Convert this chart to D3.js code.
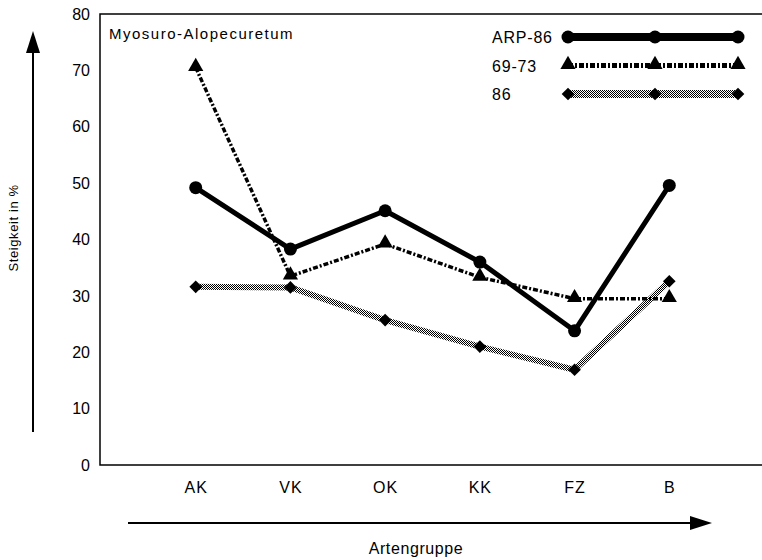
<!DOCTYPE html>
<html>
<head>
<meta charset="utf-8">
<script src="https://cdn.jsdelivr.net/npm/d3@7"></script>
<style>
body { margin: 0; background: #fff; }
text { font-family: "Liberation Sans", Arial, sans-serif; fill: #000; }
</style>
</head>
<body>
<div class="chart"></div>
<script>
var categories = ["AK", "VK", "OK", "KK", "FZ", "B"];
var arp86 = [49.2, 38.3, 45.1, 36.0, 23.8, 49.6];
var s6973 = [70.5, 33.5, 39.2, 33.3, 29.5, 29.5];
var s86 = [31.6, 31.5, 25.7, 21.0, 16.9, 32.6];
var yTicks = [0, 10, 20, 30, 40, 50, 60, 70, 80];

var width = 762;
var height = 560;

var svg = d3.select(".chart")
    .append("svg")
    .attr("width", width)
    .attr("height", height);

// checker pattern for the "86" series
var defs = svg.append("defs");
var pat = defs.append("pattern")
    .attr("id", "checker")
    .attr("patternUnits", "userSpaceOnUse")
    .attr("width", 2)
    .attr("height", 2);
pat.append("rect").attr("width", 2).attr("height", 2).attr("fill", "#fff");
pat.append("rect").attr("width", 1).attr("height", 1).attr("fill", "#000");
pat.append("rect").attr("x", 1).attr("y", 1).attr("width", 1).attr("height", 1).attr("fill", "#000");

var x = d3.scalePoint()
    .domain(categories)
    .range([101, 764])
    .padding(1);

var y = d3.scaleLinear()
    .domain([0, 80])
    .range([465, 14]);

// frame (left, top, bottom)
svg.append("path")
    .attr("d", "M762,14H100V465H762")
    .attr("fill", "none")
    .attr("stroke", "#000")
    .attr("stroke-width", 1.5);

// y tick labels
var yAxis = d3.axisLeft(y).tickValues(yTicks).tickSize(0).tickPadding(10);
var ga = svg.append("g").attr("transform", "translate(100,0)").call(yAxis);
ga.select(".domain").remove();
ga.selectAll("text")
    .style("font-size", "16px")
    .style("font-family", "Liberation Sans, Arial, sans-serif");

// x labels
var xAxis = d3.axisBottom(x).tickSize(0).tickPadding(0);
var gx = svg.append("g").attr("transform", "translate(0,482)").call(xAxis);
gx.select(".domain").remove();
gx.selectAll("text")
    .style("font-size", "16px")
    .style("letter-spacing", "1px")
    .style("font-family", "Liberation Sans, Arial, sans-serif");

// axis arrows
svg.append("line").attr("x1", 33).attr("x2", 33).attr("y1", 432).attr("y2", 48)
    .attr("stroke", "#000").attr("stroke-width", 2);
svg.append("path").attr("d", "M33,31L26,53L40,53Z").attr("fill", "#000");
svg.append("line").attr("x1", 128).attr("x2", 695).attr("y1", 523).attr("y2", 523)
    .attr("stroke", "#000").attr("stroke-width", 2);
svg.append("path").attr("d", "M712,523L690,516L690,530Z").attr("fill", "#000");

svg.append("text")
    .attr("transform", "translate(18,228) rotate(-90)")
    .attr("text-anchor", "middle")
    .style("font-size", "13px")
    .style("letter-spacing", "0.6px")
    .text("Steigkeit in %");

svg.append("text")
    .attr("x", 416).attr("y", 554)
    .attr("text-anchor", "middle")
    .style("font-size", "16px")
    .style("letter-spacing", "0.6px")
    .text("Artengruppe");

svg.append("text")
    .attr("x", 109).attr("y", 39)
    .style("font-size", "15px")
    .style("letter-spacing", "1.5px")
    .text("Myosuro-Alopecuretum");

var line = d3.line()
    .x(function (d, i) { return x(categories[i]); })
    .y(function (d) { return y(d); });

var series = [
    { name: "ARP-86", values: arp86, stroke: "#000", width: 5, dash: null, marker: "circle" },
    { name: "69-73", values: s6973, stroke: "#000", width: 3.5, dash: "5,2,2,2", marker: "triangle" },
    { name: "86", values: s86, stroke: "url(#checker)", width: 6, dash: null, marker: "diamond" }
];

function drawMarker(g, kind, cx, cy) {
    if (kind == "circle") {
        g.append("circle").attr("cx", cx).attr("cy", cy).attr("r", 6.5).attr("fill", "#000");
    } else if (kind == "triangle") {
        g.append("path").attr("d", d3.symbol().type(d3.symbolTriangle).size(100)())
            .attr("transform", "translate(" + cx + "," + (cy - 1) + ")")
            .attr("fill", "#000");
    } else {
        g.append("path").attr("d", d3.symbol().type(d3.symbolSquare).size(80)())
            .attr("transform", "translate(" + cx + "," + cy + ") rotate(45)")
            .attr("fill", "#000");
    }
}

// draw order: 86 at the back, then 69-73, then ARP-86
[2, 1, 0].forEach(function (k) {
    var s = series[k];
    var g = svg.append("g");
    g.append("path")
        .datum(s.values)
        .attr("d", line)
        .attr("fill", "none")
        .attr("stroke", s.stroke)
        .attr("stroke-width", s.width)
        .attr("stroke-linejoin", "round")
        .attr("stroke-dasharray", s.dash);
    s.values.forEach(function (v, i) {
        drawMarker(g, s.marker, x(categories[i]), y(v));
    });
});

// legend
var legX = [568, 655, 738];
series.forEach(function (s, k) {
    var ly = 37 + k * 28.5;
    var g = svg.append("g");
    g.append("text")
        .attr("x", 492).attr("y", ly + 6)
        .style("font-size", "16px")
        .style("letter-spacing", "0.8px")
        .text(s.name);
    g.append("line")
        .attr("x1", legX[0]).attr("x2", legX[2])
        .attr("y1", ly).attr("y2", ly)
        .attr("stroke", s.stroke)
        .attr("stroke-width", k == 1 ? 5 : 8)
        .attr("stroke-dasharray", s.dash);
    legX.forEach(function (lx) {
        drawMarker(g, s.marker, lx, ly);
    });
});
</script>
</body>
</html>
